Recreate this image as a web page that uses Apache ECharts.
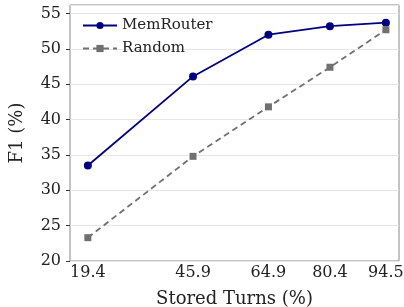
<!DOCTYPE html>
<html>
<head>
<meta charset="utf-8">
<script src="https://cdn.jsdelivr.net/npm/echarts@6/dist/echarts.min.js"></script>
<style>
  html, body { margin: 0; padding: 0; background: #fff; }
  #main { width: 404px; height: 307px; }
</style>
</head>
<body>
<div id="main"></div>
<script>
var storedTurns = [19.4, 45.9, 64.9, 80.4, 94.5];
var memRouter = [33.5, 46.1, 52.0, 53.2, 53.7];
var randomSel = [23.3, 34.8, 41.8, 47.4, 52.7];

var chartDom = document.getElementById('main');
var myChart = echarts.init(chartDom);
var serif = 'DejaVu Serif';

function pairs(xs, ys) {
    return xs.map(function (x, i) { return [x, ys[i]]; });
}

var option = {
    animation: false,
    grid: {
        left: 70, right: 5, top: 5, bottom: 46,
        outerBoundsMode: 'none',
        containLabel: false,
        show: true,
        borderColor: '#888',
        borderWidth: 1
    },
    legend: {
        left: 77, top: 13,
        orient: 'vertical',
        itemGap: 8,
        itemWidth: 34,
        itemHeight: 9,
        textStyle: { fontFamily: serif, fontSize: 15, color: '#222' },
        data: ['MemRouter', 'Random']
    },
    xAxis: {
        type: 'value',
        min: 14.9,
        max: 97.8,
        name: 'Stored Turns (%)',
        nameLocation: 'middle',
        nameGap: 29,
        nameTextStyle: { fontFamily: serif, fontSize: 18, color: '#222' },
        axisLine: { show: false },
        axisTick: { show: false, customValues: storedTurns },
        splitLine: { show: false },
        axisLabel: {
            customValues: storedTurns,
            fontFamily: serif, fontSize: 16, color: '#222', margin: 4,
            formatter: function (v) { return v.toFixed(1); }
        }
    },
    yAxis: {
        type: 'value',
        min: 20,
        max: 56.2,
        interval: 5,
        name: 'F1 (%)',
        nameLocation: 'middle',
        nameGap: 44,
        nameTextStyle: { fontFamily: serif, fontSize: 18, color: '#222' },
        axisLine: { show: false },
        axisTick: { show: true, length: 4, lineStyle: { color: '#333' } },
        splitLine: { lineStyle: { color: '#e6e6e6' } },
        axisLabel: {
            fontFamily: serif, fontSize: 16, color: '#222', margin: 9,
            showMaxLabel: false
        }
    },
    series: [
        {
            name: 'MemRouter',
            type: 'line',
            data: pairs(storedTurns, memRouter),
            symbol: 'circle',
            symbolSize: 8,
            itemStyle: { color: '#000080' },
            lineStyle: { color: '#000080', width: 1.8 }
        },
        {
            name: 'Random',
            type: 'line',
            data: pairs(storedTurns, randomSel),
            symbol: 'rect',
            symbolSize: 7,
            itemStyle: { color: '#707070' },
            lineStyle: { color: '#707070', width: 1.8, type: [6, 4] }
        }
    ]
};

option && myChart.setOption(option);
</script>
</body>
</html>
